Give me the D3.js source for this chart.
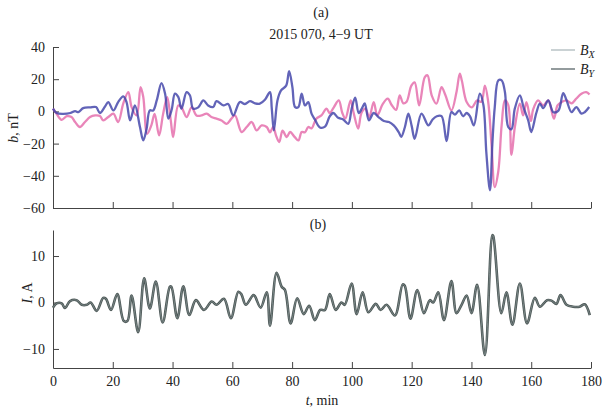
<!DOCTYPE html>
<html>
<head>
<meta charset="utf-8">
<script src="https://cdn.jsdelivr.net/npm/d3@7"></script>
<style>
  body { margin: 0; background: #fff; }
  svg text { font-family: "Liberation Serif", "DejaVu Serif", serif; fill: #222; }
</style>
</head>
<body>
<div id="chart"></div>
<script>
const svgWidth = 603;
const svgHeight = 420;

// time ticks, minutes
const timeTicks = [0, 20, 40, 60, 80, 100, 120, 140, 160, 180];
const bTicks = [-60, -40, -20, 0, 20, 40];
const iTicks = [-10, 0, 10];

// panel (a): B_X (pink), [t, nT]
const bx = [[0,1.7],[1.2,-1.5],[2.9,-5.2],[4.6,-3],[6.2,-3.5],[7.4,-6.6],[9,-9.7],[10.7,-6.6],[12.4,-3.5],[14.1,-2.5],[15.7,-2.8],[16.8,-5.6],[18.5,-3.5],[20.2,-1.4],[21.8,-6.6],[23.5,4.8],[25.2,12],[26.3,2.7],[28,-2.5],[29.3,15],[30.2,9],[31.5,-13.9],[32.9,-8.7],[34,-1.5],[35.5,-14.9],[36.8,-2],[38.2,8.9],[39.4,-5.6],[40.2,-16],[41.9,3.7],[43,2.5],[44.7,-3.5],[46.4,2.7],[48,-2.5],[49.7,-2.5],[51.4,-1.4],[53,-3.5],[54.7,-4.5],[56.4,-5.6],[58.1,-7.7],[59.7,-4.5],[60.9,-2.5],[63.1,-12.8],[64.8,-9.7],[66.5,-6.6],[68.1,-11.8],[69.8,-8.7],[71.5,-9.7],[72.6,-13],[73.7,-9.7],[74.6,-14.9],[75.7,-19],[76.8,-12],[78.2,-16],[79.3,-12.8],[80.9,-16],[82.1,-18],[83.2,-12.8],[84.3,-13],[85.4,-9.7],[86.5,-10.5],[88.1,-4.5],[89.8,-2.5],[91.5,1.7],[92.6,-1],[94,2.7],[95.6,6.8],[96.8,-1],[97.8,-4.5],[99.6,6.8],[100.6,-1],[102.1,-10.7],[103.2,-1],[104.5,1.7],[105.8,-3.5],[107.3,5.8],[108.5,-2.5],[110.3,4.5],[112,7.9],[113.3,4],[114.8,1],[116,10],[117.2,5],[118.3,6],[119.9,16],[121,18],[122.5,3.7],[124.4,21.3],[125.3,22.4],[126.7,10],[128.3,4.8],[130,15],[131.3,10],[133.3,0.6],[135,12],[136.1,23.4],[136.8,19],[138.4,5.8],[140.1,2.5],[141.9,6.8],[143.3,6],[144.5,16],[145.6,6],[146.7,-20],[147.8,-47],[149,-37],[150.1,-8.7],[151.2,6.8],[152.3,4],[153.4,-27],[154.5,-10],[156.2,4.8],[157.3,-2.5],[158.4,5.8],[159.9,-6],[160.6,1],[162.3,6.8],[164,3.7],[165.7,6.8],[167.6,-4.5],[168.8,3.7],[170.2,5.8],[171.8,6.8],[173.5,5],[175.1,8],[176.8,11],[178.4,12],[179.5,10.5]];

// panel (a): B_Y (blue), [t, nT]
const by = [[0,1.7],[1.2,-1],[3.5,-1.5],[5.8,-1],[7.4,0.2],[8.5,-0.5],[10.1,2],[12.4,2.5],[14.4,2.7],[15.7,-1],[17.4,3],[18.5,5.8],[20.2,0.6],[21.8,5.8],[23.5,9.3],[24.6,5.8],[25.8,-5.6],[27.4,3.7],[29.1,-9.7],[30.2,-18],[31.3,-11],[32.4,0.6],[33.5,0.5],[34.7,6.8],[36.3,17.6],[37.5,11],[38.6,-4.5],[39.7,1],[40.8,11],[41.9,9],[43,1.7],[44.7,12],[45.8,10],[46.9,1.7],[48.6,2.5],[50.3,6.8],[51.9,3.7],[53.6,2.7],[54.7,6.4],[57,3.7],[58.6,4.6],[60.3,-2.5],[62.5,5.8],[64.2,4.6],[65.9,6.4],[67.6,5],[69.2,4.8],[70.9,7.2],[72.6,12],[73.2,1.7],[73.9,-11.8],[75.1,6.8],[76.3,13],[78,16],[79,25],[80.1,15],[81,2.7],[82.1,2.7],[83.2,11],[84.3,3.7],[85.4,5.8],[86.5,-1.4],[87.6,-5],[89.3,-10],[91,-9.5],[92.6,-3],[93.8,-1],[95.4,-4],[97.1,-5],[98.8,-7.7],[99.9,1.5],[101.1,8.5],[102.3,-1],[103.4,2],[104.3,5],[105.7,-5.5],[107.3,-1],[108.9,-3.5],[110.7,-6],[112.4,-6.6],[114,-8.7],[115.7,-13],[116.5,-15.8],[117.7,-10],[118.9,-1.4],[120,-9],[121,-17],[123.3,-1.4],[125.6,-8.7],[127,-5],[128.4,-3],[130,-3],[131.7,-18.5],[133.3,-0.4],[134.5,-2],[135.9,0.6],[137.2,-3],[138.4,-1],[139.5,-3],[140.8,-8.7],[142.8,11],[144,4],[145,-26],[146.2,-49],[147,-20],[147.8,2.7],[149,19.3],[150.1,19.3],[151.2,12],[152.3,-9.7],[153.4,-11],[154.5,1.7],[156.2,10],[157.5,2],[159,-5.6],[160,-12.8],[161.7,-1],[162.9,4.8],[164,2],[165.7,6.8],[167.4,-0.5],[169.1,0.5],[170.7,11.4],[171.8,7],[173.5,-0.5],[175.1,2.7],[176.8,-1.4],[177.9,-0.5],[179.4,2.7]];

// panel (b): current I, [t, A]
const cur = [[0,-1.1],[1.2,-0.2],[2.9,-0.2],[4,-1.2],[5.7,0.3],[7.9,0.5],[9.6,-0.5],[11.3,-0.5],[12.6,0],[14.6,-1.8],[16.8,1.0],[17.7,0.8],[19.4,-1.6],[21.5,1.8],[23.7,-4.0],[24.9,-4.0],[26.3,1.5],[28.5,-6.4],[30.5,5.2],[32.4,-1.3],[34.4,4.5],[36.7,-4.3],[39.1,3.4],[39.6,3.4],[41.6,-3.4],[43.6,3.5],[45.6,-2.7],[47.8,0.5],[50.5,-1.6],[53.1,0.2],[54.7,-0.5],[57.2,0.8],[59.5,-3.4],[62,2.3],[63,1.8],[64.5,-0.5],[67,1.6],[67.5,1.4],[69.5,-1.1],[71.5,2.2],[72.6,-5.0],[74.8,6.4],[76.5,3.4],[77.6,2.7],[79.5,-4.5],[81.7,0.9],[83.9,-2.5],[85.7,-0.7],[87.6,-3.8],[89.4,-1.6],[91,-1.6],[92.6,1.8],[94.6,-1.6],[96.5,0],[97.6,-0.5],[99.9,4.1],[101.6,-2.5],[103.6,2.2],[105.5,-2.1],[108,-0.3],[109.6,-1.6],[111.6,-0.5],[114.4,-2.8],[117,3.9],[117.7,3.6],[119.6,-3.5],[121.9,2.7],[124.1,-2.3],[126.1,0.5],[127.2,0],[128.9,2.2],[130.8,-3.8],[133.3,4.6],[135,-2.3],[136.7,-0.5],[138.4,1.5],[140,-2.3],[141.9,3.8],[144.5,-11.3],[147,14.5],[147.3,14.3],[150,-2.3],[151.7,2.2],[153.7,-4.8],[156.2,4.1],[158.6,-4.5],[161.2,1.0],[162.9,-0.9],[165.3,0.5],[166.8,0.4],[168.4,-0.3],[169.8,1.6],[171.8,-0.5],[174,-0.9],[176.2,-0.9],[177.9,-0.4],[179.6,-2.7]];

const left = 53, right = 591;
const xScale = d3.scaleLinear().domain([0, 180]).range([left, right]);
const yA = d3.scaleLinear().domain([-60, 40]).range([208, 47]);
const yB = d3.scaleLinear().domain([-14.1, 15.6]).range([368, 230]);

const svg = d3.select("#chart")
    .append("svg")
    .attr("width", svgWidth)
    .attr("height", svgHeight);

function drawAxes(yScale, ticks, bottomY, withLabels) {
    const xAxis = d3.axisBottom(xScale)
        .tickValues(timeTicks)
        .tickSizeInner(-6)
        .tickSizeOuter(0)
        .tickFormat(withLabels ? d3.format("d") : "");
    const gx = svg.append("g")
        .attr("transform", `translate(0, ${bottomY})`)
        .call(xAxis);
    gx.selectAll("text").attr("dy", "1.05em").style("font-size", "14px");

    const yAxis = d3.axisLeft(yScale)
        .tickValues(ticks)
        .tickSizeInner(-6)
        .tickSizeOuter(0)
        .tickFormat(d => d < 0 ? "\u2212" + Math.abs(d) : d);
    const gy = svg.append("g")
        .attr("transform", `translate(${left}, 0)`)
        .call(yAxis);
    gy.selectAll("text").attr("x", -8).style("font-size", "14px");

    svg.selectAll(".domain, .tick line").attr("stroke", "#444").attr("stroke-width", 1);
}

drawAxes(yA, bTicks, 208, false);
drawAxes(yB, iTicks, 368, true);

function drawLine(data, yScale, color, width, opacity) {
    svg.append("path")
        .datum(data)
        .attr("fill", "none")
        .attr("stroke", color)
        .attr("stroke-width", width)
        .attr("stroke-opacity", opacity)
        .attr("stroke-linejoin", "round")
        .attr("d", d3.line()
            .x(d => xScale(d[0]))
            .y(d => yScale(d[1]))
            .curve(d3.curveCatmullRom.alpha(0.5)));
}

drawLine(bx, yA, "#e466a8", 2.3, 0.8);
drawLine(by, yA, "#4042a8", 2.3, 0.82);
drawLine(cur, yB, "#4d5857", 2.6, 1);
drawLine(cur, yB, "#7d8a8a", 0.9, 1);

// titles
svg.append("text").attr("x", 321).attr("y", 17).attr("text-anchor", "middle")
    .style("font-size", "14px").text("(a)");
svg.append("text").attr("x", 321).attr("y", 39).attr("text-anchor", "middle")
    .style("font-size", "14px").text("2015 070, 4\u22129 UT");
svg.append("text").attr("x", 318).attr("y", 229).attr("text-anchor", "middle")
    .style("font-size", "14px").text("(b)");

// axis titles
svg.append("text").attr("transform", "translate(18, 128) rotate(-90)")
    .attr("text-anchor", "middle").style("font-size", "14px")
    .html('<tspan font-style="italic">b</tspan>, nT');
svg.append("text").attr("transform", "translate(32, 293) rotate(-90)")
    .attr("text-anchor", "middle").style("font-size", "14px")
    .html('<tspan font-style="italic">I</tspan>, A');
svg.append("text").attr("x", 322).attr("y", 405).attr("text-anchor", "middle")
    .style("font-size", "14px")
    .html('<tspan font-style="italic">t</tspan>, min');

// legend
const legend = [
    { name: "X", color: "#b9c3c6", y: 50 },
    { name: "Y", color: "#6f7a7d", y: 69 }
];
legend.forEach(l => {
    svg.append("line")
        .attr("x1", 551).attr("x2", 575)
        .attr("y1", l.y).attr("y2", l.y)
        .attr("stroke", l.color).attr("stroke-width", 1.5);
    svg.append("text").attr("x", 580).attr("y", l.y + 5)
        .style("font-size", "14px").style("font-style", "italic")
        .html(`B<tspan font-size="10px" dy="3">${l.name}</tspan>`);
});
</script>
</body>
</html>
